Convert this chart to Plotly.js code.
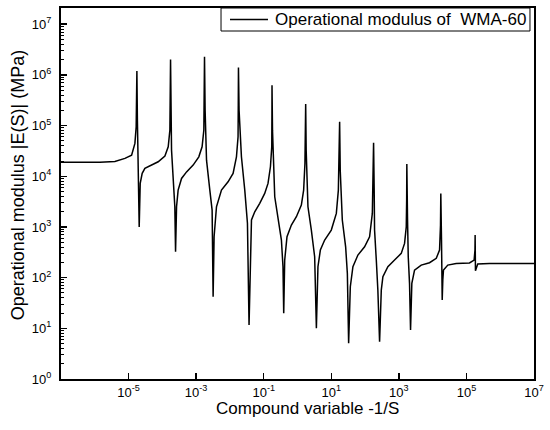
<!DOCTYPE html>
<html>
<head>
<meta charset="utf-8">
<script src="https://cdn.plot.ly/plotly-3.0.1.min.js"></script>
<style>html,body{margin:0;padding:0;background:#fff;}#chart{width:550px;height:430px;}</style>
</head>
<body>
<div id="chart"></div>
<script>
// Compound variable -1/S
var compoundVariable = [
  1e-7, 1.42e-6, 3.94e-6, 7.8e-6, 1.23e-5, 1.54e-5, 1.68e-5, 1.73e-5, 1.763e-5,
  1.825e-5, 1.93e-5, 2.063e-5, 2.21e-5, 2.53e-5, 3.04e-5, 4.80e-5, 7.52e-5, 1.19e-4, 1.49e-4, 1.67e-4, 1.714e-4, 1.748e-4,
  1.87e-4, 2.09e-4, 2.34e-4, 2.457e-4, 2.63e-4, 2.93e-4, 3.70e-4, 5.20e-4, 8.15e-4, 1.20e-3, 1.50e-3, 1.69e-3, 1.734e-3, 1.769e-3,
  1.843e-3, 2.03e-3, 2.54e-3, 2.97e-3, 3.18e-3, 3.40e-3, 4.00e-3, 5.62e-3, 8.81e-3, 1.24e-2, 1.56e-2, 1.74e-2, 1.766e-2, 1.789e-2,
  1.864e-2, 2.19e-2, 2.75e-2, 3.30e-2, 3.68e-2, 3.99e-2, 4.34e-2, 5.43e-2, 7.62e-2, 0.107, 0.134, 0.158, 0.173, 0.175, 0.176,
  0.182, 0.212, 0.265, 0.334, 0.372, 0.391, 0.418, 0.489, 0.659, 0.927, 1.30, 1.52, 1.66, 1.72, 1.746,
  1.806, 2.04, 2.57, 3.22, 3.62, 4.03, 4.75, 6.37, 10.0, 14.1, 16.2, 17.2, 17.66,
  18.4, 21.2, 26.6, 29.9, 32.6, 36.6, 43.7, 61.4, 96.8, 136, 164, 174, 178.6,
  186, 191, 215, 239, 269, 302, 337, 473, 746, 1178, 1475, 1656, 1702, 1722,
  1807, 1897, 2070, 2218, 2422, 2911, 4592, 8090, 1.28e4, 1.60e4, 1.71e4, 1.745e4,
  1.83e4, 1.866e4, 1.918e4, 2.0e4, 2.095e4, 2.81e4, 4.97e4, 1.23e5, 1.69e5, 1.79e5, 1.81e5,
  1.85e5, 2.16e5, 4.80e5, 1e7
];
// Operational modulus |E(S)| (MPa)
var operationalModulus = [
  1.88e4, 1.88e4, 1.95e4, 2.25e4, 2.61e4, 4.45e4, 9.45e4, 3.18e5, 1.19e6,
  1.28e5, 9.75e3, 1.0e3, 7.23e3, 1.14e4, 1.43e4, 1.66e4, 1.93e4, 2.50e4, 3.81e4, 8.13e4, 3.18e5, 2.02e6,
  3.28e4, 7.23e3, 2.50e3, 324, 2.50e3, 5.33e3, 9.07e3, 1.22e4, 1.66e4, 2.42e4, 3.81e4, 8.13e4, 3.18e5, 2.27e6,
  2.02e5, 2.08e4, 5.33e3, 2.15e3, 42, 640, 2.50e3, 5.33e3, 7.78e3, 1.14e4, 2.42e4, 6.0e4, 2.53e5, 1.40e6,
  2.02e5, 2.42e4, 5.33e3, 1.18e3, 11.6, 222, 1.37e3, 1.99e3, 2.92e3, 4.59e3, 7.23e3, 1.54e4, 3.81e4, 1.61e5, 6.28e5,
  8.13e4, 3.94e3, 1.37e3, 551, 164, 19.8, 222, 640, 1.09e3, 1.59e3, 2.70e3, 5.33e3, 1.79e4, 8.13e4, 2.65e5,
  3.28e4, 2.50e3, 868, 258, 10, 164, 350, 551, 868, 1.85e3, 5.33e3, 3.28e4, 1.19e5,
  1.32e4, 1.37e3, 406, 121, 5.06, 66.1, 164, 279, 406, 640, 1.85e3, 8.40e3, 4.57e4,
  5.33e3, 868, 222, 56.9, 5.44, 56.9, 104, 164, 222, 301, 474, 1.0e3, 3.39e3, 1.74e4,
  1.37e3, 258, 77.1, 9.25, 77.1, 141, 177, 197, 240, 350, 1.09e3, 4.59e3,
  551, 164, 36.1, 89.6, 141, 177, 191, 195, 222, 350, 692,
  137, 185, 190, 190
];
var seriesName = "Operational modulus of  WMA-60";
var xTitle = "Compound variable -1/S";
var yTitle = "Operational modulus |E(S)| (MPa)";
var xLabelExponents = [-5, -3, -1, 1, 3, 5, 7];
var xTickLabels = ["10<sup>-5</sup>","10<sup>-3</sup>","10<sup>-1</sup>","10<sup>1</sup>","10<sup>3</sup>","10<sup>5</sup>","10<sup>7</sup>"];
var xDecadeExponents = [-7,-6,-5,-4,-3,-2,-1,0,1,2,3,4,5,6,7];
var yTickExponents = [0,1,2,3,4,5,6,7];
var yTickLabels = ["10<sup>0</sup>","10<sup>1</sup>","10<sup>2</sup>","10<sup>3</sup>","10<sup>4</sup>","10<sup>5</sup>","10<sup>6</sup>","10<sup>7</sup>"];

function decades(exps){ return exps.map(function(e){ return Math.pow(10, e); }); }
function minorTicks(lo, hi){
  var out = [];
  for (var e = lo; e < hi; e++) for (var k = 2; k <= 9; k++) out.push(k * Math.pow(10, e));
  return out;
}

var font = "Liberation Sans, Arial, sans-serif";
var trace = {
  x: compoundVariable, y: operationalModulus, type: "scatter", mode: "lines",
  name: seriesName, line: {color: "#000", width: 1.5}, showlegend: false
};
var tickStyle = {ticks: "inside", ticklen: 6, tickwidth: 1.5, tickcolor: "#000"};
var minorStyle = {ticks: "inside", ticklen: 3, tickwidth: 1, tickcolor: "#000"};
var layout = {
  width: 550, height: 430,
  margin: {l: 61, r: 16, t: 8, b: 51},
  paper_bgcolor: "#fff", plot_bgcolor: "#fff",
  showlegend: false,
  font: {family: font, color: "#000"},
  xaxis: Object.assign({
    type: "log", range: [-7, 7], showgrid: false, zeroline: false,
    showline: true, linecolor: "#000", linewidth: 2, mirror: true,
    tickmode: "array", tickvals: decades(xLabelExponents), ticktext: xTickLabels,
    tickfont: {family: font, size: 13, color: "#000"}
  }, tickStyle),
  xaxis2: Object.assign({
    type: "log", range: [-7, 7], overlaying: "x", anchor: "y", side: "bottom",
    showgrid: false, zeroline: false, showline: false, showticklabels: false,
    tickmode: "array", tickvals: decades(xDecadeExponents),
    minor: Object.assign({tickmode: "array", tickvals: minorTicks(-7, 7)}, minorStyle)
  }, tickStyle),
  yaxis: Object.assign({
    type: "log", range: [0, 7.32], showgrid: false, zeroline: false,
    showline: true, linecolor: "#000", linewidth: 2, mirror: true,
    tickmode: "array", tickvals: decades(yTickExponents), ticktext: yTickLabels,
    ticklabelstandoff: 5,
    tickfont: {family: font, size: 13, color: "#000"},
    minor: Object.assign({tickmode: "array", tickvals: minorTicks(0, 8)}, minorStyle)
  }, tickStyle),
  shapes: [
    {type: "rect", xref: "paper", yref: "paper", x0: 0.3383, x1: 0.9915, y0: 0.938, y1: 1,
     line: {color: "#000", width: 1}, fillcolor: "#fff", layer: "above"},
    {type: "line", xref: "paper", yref: "paper", x0: 0.3573, x1: 0.4376, y0: 0.969, y1: 0.969,
     line: {color: "#000", width: 1.5}, layer: "above"}
  ],
  annotations: [
    {text: seriesName, xref: "paper", yref: "paper", x: 0.4482, xanchor: "left", y: 0.969, yanchor: "middle",
     showarrow: false, font: {family: font, size: 17, color: "#000"}},
    {text: xTitle, xref: "paper", yref: "paper", x: 0.522, xanchor: "center", y: 0, yanchor: "top", yshift: -18,
     showarrow: false, font: {family: font, size: 17, color: "#000"}},
    {text: yTitle, xref: "paper", yref: "paper", x: -0.091, xanchor: "center", y: 0.522, yanchor: "middle", textangle: -90,
     showarrow: false, font: {family: font, size: 18, color: "#000"}}
  ]
};
Plotly.newPlot("chart", [trace], layout, {staticPlot: true, displayModeBar: false});
</script>
</body>
</html>
